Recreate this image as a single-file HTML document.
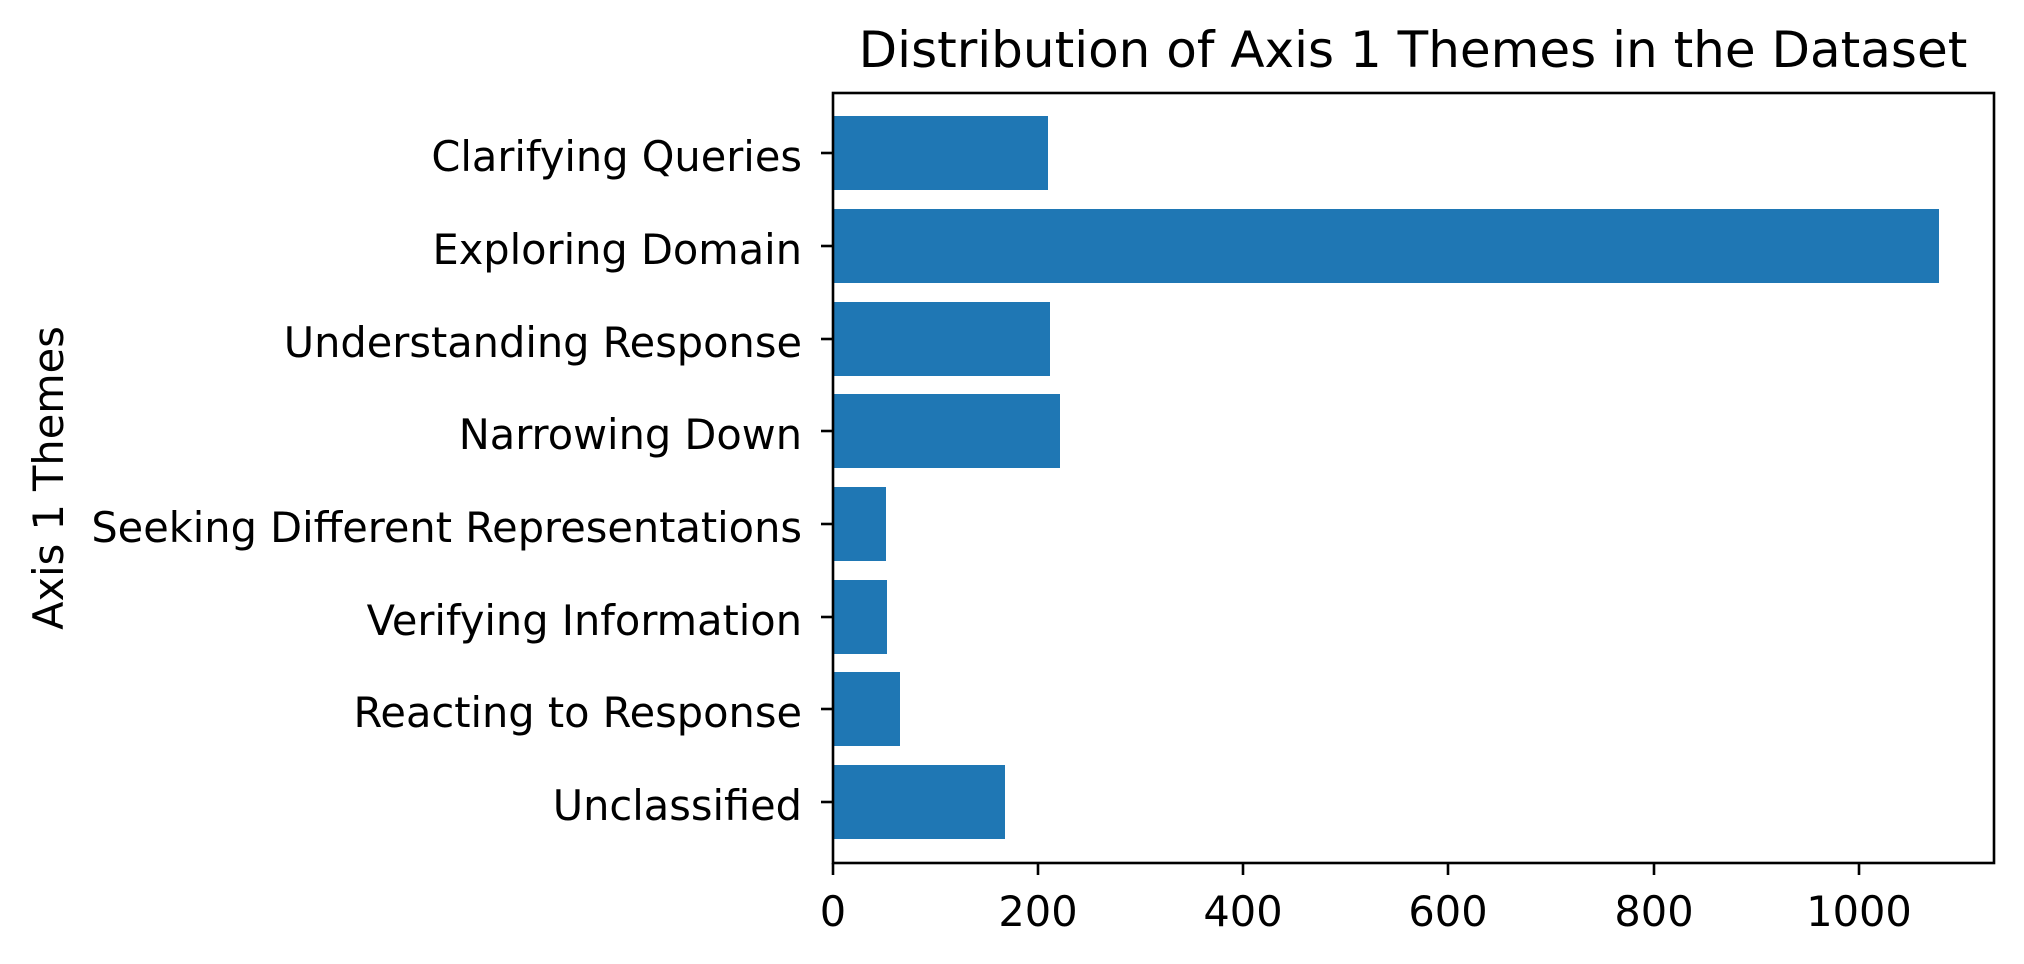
<!DOCTYPE html>
<html><head><meta charset="utf-8"><style>
html,body{margin:0;padding:0;background:#fff;}
svg{display:block;}
text{font-family:"DejaVu Sans","Liberation Sans",sans-serif;fill:#000;}
</style></head><body>
<svg width="2024" height="964" viewBox="0 0 2024 964" xmlns="http://www.w3.org/2000/svg">
<rect width="2024" height="964" fill="#fff"/>
<g fill="#1f77b4">
<rect x="833" y="116" width="215" height="74"/>
<rect x="833" y="209" width="1106" height="74"/>
<rect x="833" y="302" width="217" height="74"/>
<rect x="833" y="394" width="227" height="74"/>
<rect x="833" y="487" width="53" height="74"/>
<rect x="833" y="580" width="54" height="74"/>
<rect x="833" y="672" width="67" height="74"/>
<rect x="833" y="765" width="172" height="74"/>
</g>
<rect x="833" y="93" width="1161" height="770" fill="none" stroke="#000" stroke-width="2.6"/>
<g stroke="#000" stroke-width="2.6">
<line x1="821" y1="153" x2="833" y2="153"/>
<line x1="821" y1="246" x2="833" y2="246"/>
<line x1="821" y1="339" x2="833" y2="339"/>
<line x1="821" y1="431" x2="833" y2="431"/>
<line x1="821" y1="524" x2="833" y2="524"/>
<line x1="821" y1="617" x2="833" y2="617"/>
<line x1="821" y1="709" x2="833" y2="709"/>
<line x1="821" y1="802" x2="833" y2="802"/>
<line x1="833" y1="863" x2="833" y2="875"/>
<line x1="1038" y1="863" x2="1038" y2="875"/>
<line x1="1243" y1="863" x2="1243" y2="875"/>
<line x1="1448" y1="863" x2="1448" y2="875"/>
<line x1="1654" y1="863" x2="1654" y2="875"/>
<line x1="1859" y1="863" x2="1859" y2="875"/>
</g>
<g font-size="41.5" text-anchor="end">
<text x="802" y="171">Clarifying Queries</text>
<text x="802" y="264">Exploring Domain</text>
<text x="802" y="357">Understanding Response</text>
<text x="802" y="449">Narrowing Down</text>
<text x="802" y="542">Seeking Different Representations</text>
<text x="802" y="635">Verifying Information</text>
<text x="802" y="727">Reacting to Response</text>
<text x="802" y="820">Unclassified</text>
</g>
<g font-size="41.5" text-anchor="middle">
<text x="833" y="926">0</text>
<text x="1038" y="926">200</text>
<text x="1243" y="926">400</text>
<text x="1448" y="926">600</text>
<text x="1654" y="926">800</text>
<text x="1859" y="926">1000</text>
</g>
<text x="1413" y="67" font-size="50" text-anchor="middle">Distribution of Axis 1 Themes in the Dataset</text>
<text transform="translate(63,478) rotate(-90)" font-size="41.5" text-anchor="middle">Axis 1 Themes</text>
</svg>
</body></html>
